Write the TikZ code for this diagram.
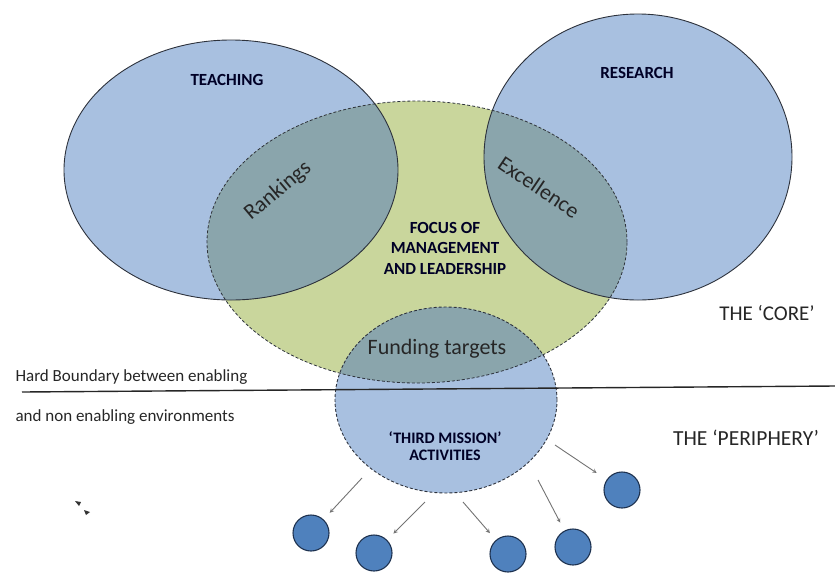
\documentclass[tikz,border=0pt]{standalone}
\usepackage{fontspec}
\setmainfont{Carlito}
\usetikzlibrary{shapes.geometric}
\definecolor{coreblue}{RGB}{168,192,224}
\definecolor{focusgreen}{RGB}{201,214,156}
\definecolor{overlapteal}{RGB}{138,165,172}
\definecolor{spotblue}{RGB}{79,129,189}
\definecolor{spotedge}{RGB}{30,50,80}
\definecolor{rimgrey}{RGB}{45,50,60}
\begin{document}
\begin{tikzpicture}[x=1pt,y=-1pt,
    rim/.style={draw=rimgrey, line width=0.9pt},
    spot/.style={circle, draw=spotedge, fill=spotblue, line width=1.1pt, minimum size=36pt, inner sep=0pt},
    flow/.style={->, >=stealth, draw=black!55, line width=0.9pt, shorten >=9pt},
    heading/.style={font=\fontsize{17}{19}\selectfont\bfseries, text=black!85!blue},
    zone/.style={font=\fontsize{22}{25}\selectfont, text=black!85}]
    \useasboundingbox (0,0) rectangle (835,574);

    % fills
    \fill[coreblue] (231,170) ellipse [x radius=167pt, y radius=130pt];
    \fill[coreblue] (638,157) ellipse [x radius=154pt, y radius=143pt];
    \fill[focusgreen] (417,242) ellipse [x radius=210pt, y radius=141pt];
    \fill[coreblue] (446,400) ellipse [x radius=111pt, y radius=93pt];
    \begin{scope}
        \clip (417,242) ellipse [x radius=210pt, y radius=141pt];
        \fill[overlapteal] (231,170) ellipse [x radius=167pt, y radius=130pt];
        \fill[overlapteal] (638,157) ellipse [x radius=154pt, y radius=143pt];
        \fill[overlapteal] (446,400) ellipse [x radius=111pt, y radius=93pt];
    \end{scope}

    % outlines
    \draw[rim, densely dashed, line width=0.8pt] (417,242) ellipse [x radius=210pt, y radius=141pt];
    \draw[rim] (231,170) ellipse [x radius=167pt, y radius=130pt];
    \draw[rim] (638,157) ellipse [x radius=154pt, y radius=143pt];
    \node[ellipse, rim, densely dashed, minimum width=222pt, minimum height=186pt, inner sep=0pt] (third) at (446,400) {};

    % boundary
    \coordinate (hbL) at (22,392); \coordinate (hbR) at (835,386);
    \draw[line width=1.4pt, black!85] (hbL) -- (hbR);
    \node[anchor=west, font=\fontsize{17}{19}\selectfont, text=black!85] (hb1) at (12,377) {Hard Boundary between enabling};
    \node[anchor=west, font=\fontsize{17}{19}\selectfont, text=black!85] (hb2) at (12,417) {and non enabling environments};

    % labels
    \node[heading] (teach) at (227,80) {TEACHING};
    \node[heading] (research) at (637,73) {RESEARCH};
    \node[zone, rotate=40] (rank) at (278,191) {Rankings};
    \node[zone, rotate=-34] (excel) at (539,187) {Excellence};
    \node[heading, align=center, font=\fontsize{17}{20.5}\selectfont\bfseries] (focus) at (445,248) {FOCUS OF\\MANAGEMENT\\AND LEADERSHIP};
    \node[zone] (fund) at (437,349) {Funding targets};
    \node[heading, align=center, font=\fontsize{16}{17.5}\selectfont\bfseries] (mission) at (445,446) {`THIRD MISSION'\\ACTIVITIES};
    \node[font=\fontsize{21}{24}\selectfont, text=black!85] (core) at (767,313) {THE `CORE'};
    \node[font=\fontsize{21.5}{24}\selectfont, text=black!85] (periph) at (746,438) {THE `PERIPHERY'};

    % spin-off activities
    \node[spot] (d1) at (311,533) {};
    \node[spot] (d2) at (374,553) {};
    \node[spot] (d3) at (508,554) {};
    \node[spot] (d4) at (573,547) {};
    \node[spot] (d5) at (622,490) {};
    \coordinate (t1) at (362,478); \coordinate (t2) at (425,502);
    \coordinate (t3) at (463,502); \coordinate (t4) at (538,480);
    \coordinate (t5) at (555,445);
    \draw[flow] (t1) -- (d1); \draw[flow] (t2) -- (d2);
    \draw[flow] (t3) -- (d3); \draw[flow] (t4) -- (d4);
    \draw[flow, shorten >=12pt] (t5) -- (d5);

    % stray mark
    \fill[black!80] (75,501) -- (81,502) -- (79,506) -- cycle;
    \fill[black!80] (84,510) -- (90,512) -- (86,515) -- cycle;
\end{tikzpicture}
\end{document}
